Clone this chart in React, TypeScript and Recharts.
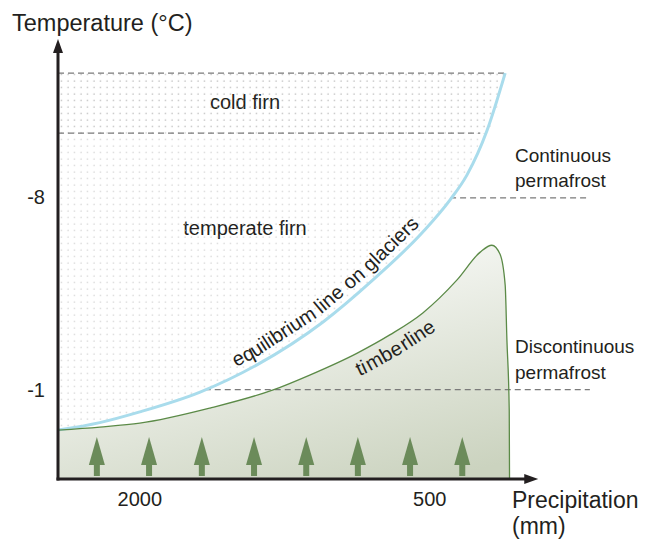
import {
  ComposedChart,
  Area,
  Line,
  Scatter,
  XAxis,
  YAxis,
  ReferenceLine,
} from "recharts";

// x: relative position along the precipitation axis (0 = left axis, 100 = right edge)
// y: degrees below zero (axis reads -1 ... -8)
const glacierX = [0, 7.2, 14.1, 24.5, 34.3, 45.7, 54.3, 62.9, 67.6, 70.5, 74.0, 77.1];
const glacierT = [-0.47, -0.2, 0.19, 0.91, 1.9, 3.46, 4.99, 6.73, 7.9, 8.8, 10.44, 12.51];

const timberX = [0, 7.2, 14.1, 26.2, 37.1, 43.4, 51.6, 57.2, 62.9, 68.8, 72.8, 74.8, 76.2, 77.1, 77.4, 77.8, 77.85];
const timberT = [-0.47, -0.36, -0.22, 0.33, 0.99, 1.53, 2.33, 2.99, 3.79, 4.99, 6.0, 6.25, 5.93, 4.8, 2.8, 0.26, -2.25];

const treeX = [6.7, 15.7, 24.8, 33.8, 42.8, 51.7, 60.7, 69.7];

const xTicks = [14.1, 64.1];
const xTickLabels = ["2000", "500"];
const yTicks = [1, 8];
const yTickLabels = ["-1", "-8"];

const yMin = -2.25;
const yMax = 13.75;
const xAxisEnd = 82.8;

const coldFirnTop = 12.51;
const coldFirnBottom = 10.33;
// permafrost boundaries: [level, start x, end x]
const permafrostLines = [
  [7.97, 67.6, 91.7],
  [1.0, 25.3, 91.7],
];

const glacier = glacierX.map((x, i) => ({ x, y: glacierT[i] }));
const timber = timberX.map((x, i) => ({ x, y: timberT[i] }));
const trees = treeX.map((x) => ({ x, y: yMin }));

const INK = "#231f20";
const FONT = "'Liberation Sans', Arial, sans-serif";

function pathFrom(points: { x: number; y: number }[]) {
  return "M" + points.map((p) => `${p.x},${p.y}`).join(" L");
}

function curveLabel(id: string, text: string, offset: string, dy: number) {
  return (p: any) => {
    if (p.index !== 0 || !p.points) return <g key={`d${p.index}`} />;
    return (
      <g key={`d${p.index}`}>
        <defs>
          <path id={id} d={pathFrom(p.points)} />
        </defs>
        <text fontSize={20} fill={INK} fontFamily={FONT}>
          <textPath href={`#${id}`} startOffset={offset} textAnchor="middle">
            <tspan dy={dy}>{text}</tspan>
          </textPath>
        </text>
      </g>
    );
  };
}

function axisArrow(dir: "x" | "y") {
  return (p: any) => {
    const { x1, y1, x2, y2 } = p;
    if (dir === "x") {
      const tipX = Math.max(x1, x2);
      const baseX = Math.min(x1, x2);
      return (
        <g>
          <line x1={baseX - 1.5} y1={y1} x2={tipX - 12} y2={y2} stroke={INK} strokeWidth={3} />
          <polygon points={`${tipX},${y1} ${tipX - 14},${y1 - 5} ${tipX - 14},${y1 + 5}`} fill={INK} />
        </g>
      );
    }
    const tipY = Math.min(y1, y2);
    const baseY = Math.max(y1, y2);
    return (
      <g>
        <line x1={x1} y1={baseY + 1.5} x2={x2} y2={tipY + 12} stroke={INK} strokeWidth={3} />
        <polygon points={`${x1},${tipY} ${x1 - 5},${tipY + 14} ${x1 + 5},${tipY + 14}`} fill={INK} />
      </g>
    );
  };
}

function Tree(p: any) {
  const { cx, cy } = p;
  return (
    <g>
      <polygon points={`${cx},${cy - 42} ${cx - 8},${cy - 14} ${cx + 8},${cy - 14}`} fill="#6b8b5a" />
      <rect x={cx - 3} y={cy - 14} width={6} height={11} fill="#6b8b5a" />
    </g>
  );
}

export default function App() {
  return (
    <div style={{ position: "absolute", left: 0, top: 0, fontFamily: FONT }}>
      <ComposedChart
        width={652}
        height={540}
        margin={{ top: 39, right: 14, bottom: 31, left: 0 }}
      >
        <defs>
          <pattern id="coldDots" width={6.5} height={6.5} patternUnits="userSpaceOnUse">
            <circle cx={3} cy={3} r={0.7} fill="#a8a8a8" />
          </pattern>
          <pattern id="tempDots" width={6.5} height={6.5} patternUnits="userSpaceOnUse">
            <circle cx={3} cy={3} r={0.7} fill="#c8c8c8" />
          </pattern>
          <linearGradient id="forestFill" x1="0.35" y1="0" x2="0.85" y2="1">
            <stop offset="0" stopColor="#ffffff" />
            <stop offset="1" stopColor="#cbd3bf" />
          </linearGradient>
        </defs>

        <XAxis
          type="number"
          dataKey="x"
          domain={[0, 100]}
          allowDataOverflow
          ticks={xTicks}
          tickFormatter={(v: number) => xTickLabels[xTicks.indexOf(v)] ?? ""}
          axisLine={false}
          tickLine={false}
          tickMargin={7}
          height={30}
          tick={{ fill: INK, fontSize: 20, fontFamily: FONT }}
        />
        <YAxis
          type="number"
          dataKey="y"
          domain={[yMin, yMax]}
          allowDataOverflow
          ticks={yTicks}
          tickFormatter={(v: number) => yTickLabels[yTicks.indexOf(v)] ?? ""}
          axisLine={false}
          tickLine={false}
          tickMargin={7}
          width={58}
          tick={{ fill: INK, fontSize: 20, fontFamily: FONT }}
        />

        <Area
          data={glacier}
          dataKey={(d: any) => [Math.min(d.y, coldFirnBottom), coldFirnBottom]}
          type="monotone"
          stroke="none"
          fill="url(#tempDots)"
          fillOpacity={1}
          isAnimationActive={false}
        />
        <Area
          data={glacier}
          dataKey={(d: any) => [Math.max(d.y, coldFirnBottom), coldFirnTop]}
          type="monotone"
          stroke="none"
          fill="url(#coldDots)"
          fillOpacity={1}
          isAnimationActive={false}
        />
        <Area
          data={timber}
          dataKey="y"
          type="monotone"
          baseValue="dataMin"
          stroke="none"
          fill="url(#forestFill)"
          fillOpacity={1}
          isAnimationActive={false}
        />

        <ReferenceLine
          segment={[{ x: 0, y: coldFirnTop }, { x: glacierX[glacierX.length - 1], y: coldFirnTop }]}
          stroke="#7a7a7a"
          strokeDasharray="6 4"
          strokeWidth={1.2}
        />
        <ReferenceLine
          segment={[{ x: 0, y: coldFirnBottom }, { x: 72.8, y: coldFirnBottom }]}
          stroke="#7a7a7a"
          strokeDasharray="6 4"
          strokeWidth={1.2}
        />
        {permafrostLines.map(([lvl, a, b]) => (
          <ReferenceLine
            key={lvl}
            segment={[{ x: a, y: lvl }, { x: b, y: lvl }]}
            stroke="#7a7a7a"
            strokeDasharray="6 4"
            strokeWidth={1.2}
          />
        ))}

        <Line
          data={glacier}
          dataKey="y"
          type="monotone"
          stroke="#a9dcec"
          strokeWidth={3}
          dot={curveLabel("glacierPath", "equilibrium line on glaciers", "51%", -7)}
          activeDot={false}
          isAnimationActive={false}
        />
        <Line
          data={timber}
          dataKey="y"
          type="monotone"
          stroke="#5b8a47"
          strokeWidth={1.3}
          dot={curveLabel("timberPath", "timberline", "48%", 22)}
          activeDot={false}
          isAnimationActive={false}
        />

        <Scatter data={trees} dataKey="y" shape={Tree} isAnimationActive={false} />

        <ReferenceLine
          segment={[{ x: 0, y: yMin }, { x: xAxisEnd, y: yMin }]}
          shape={axisArrow("x")}
        />
        <ReferenceLine
          segment={[{ x: 0, y: yMin }, { x: 0, y: yMax }]}
          shape={axisArrow("y")}
        />

        <g fontFamily={FONT} fill={INK}>
          <text x={12} y={31} fontSize={23.5}>Temperature (°C)</text>
          <text x={512} y={508} fontSize={23}>Precipitation</text>
          <text x={512} y={534} fontSize={23}>(mm)</text>
          <text x={245} y={109} fontSize={20} textAnchor="middle">cold firn</text>
          <text x={245} y={235} fontSize={20} textAnchor="middle">temperate firn</text>
          <text x={515} y={162} fontSize={19}>Continuous</text>
          <text x={515} y={187} fontSize={19}>permafrost</text>
          <text x={515} y={353} fontSize={19}>Discontinuous</text>
          <text x={515} y={379} fontSize={19}>permafrost</text>
        </g>
      </ComposedChart>
    </div>
  );
}
